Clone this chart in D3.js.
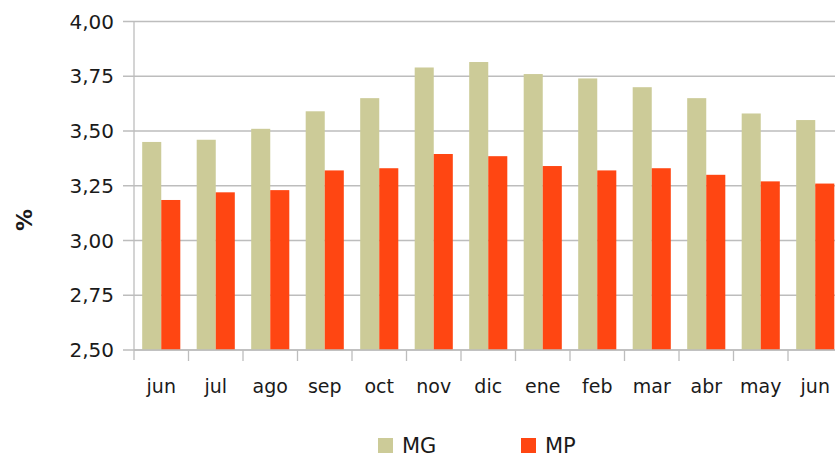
<!DOCTYPE html>
<html lang="es">
<head>
<meta charset="utf-8">
<style>
  body { margin: 0; background: #fff; }
  text { font-family: "DejaVu Sans", "Liberation Sans", sans-serif; fill: #1a1a1a; }
</style>
</head>
<body>
<svg width="835" height="457"></svg>
<script src="https://cdn.jsdelivr.net/npm/d3@7"></script>
<script>
const months = ['jun', 'jul', 'ago', 'sep', 'oct', 'nov', 'dic', 'ene', 'feb', 'mar', 'abr', 'may', 'jun '];
const mg = [3.45, 3.46, 3.51, 3.59, 3.65, 3.79, 3.815, 3.76, 3.74, 3.70, 3.65, 3.58, 3.55];
const mp = [3.185, 3.22, 3.23, 3.32, 3.33, 3.395, 3.385, 3.34, 3.32, 3.33, 3.30, 3.27, 3.26];
const series = ['MG', 'MP'];
const yTicks = [2.5, 2.75, 3.0, 3.25, 3.5, 3.75, 4.0];

const colors = { MG: '#cccb98', MP: '#ff4612' };

const svg = d3.select('svg');
const plotLeft = 134, plotTop = 21.5, plotBottom = 350;
const bandW = 54.5;

const x = d3.scaleBand()
    .domain(months)
    .range([plotLeft, plotLeft + bandW * months.length])
    .paddingInner(0)
    .paddingOuter(0);

const inner = d3.scaleBand()
    .domain(series)
    .range([0, x.bandwidth()])
    .paddingOuter(0.43)
    .paddingInner(0);

const y = d3.scaleLinear().domain([2.5, 4.0]).range([plotBottom, plotTop]);
const fmt = v => d3.format('.2f')(v).replace('.', ',');

// horizontal grid
svg.append('g').selectAll('line')
    .data(yTicks)
    .enter().append('line')
    .attr('x1', 123).attr('x2', 835)
    .attr('y1', d => y(d)).attr('y2', d => y(d))
    .attr('stroke', '#bdbdbd')
    .attr('stroke-width', 1.3);

// bars
const groups = svg.append('g').selectAll('g')
    .data(months.map((m, i) => ({ m, vals: [{ k: 'MG', v: mg[i] }, { k: 'MP', v: mp[i] }] })))
    .enter().append('g')
    .attr('transform', d => `translate(${x(d.m)},0)`);

groups.selectAll('rect')
    .data(d => d.vals)
    .enter().append('rect')
    .attr('x', d => inner(d.k))
    .attr('width', inner.bandwidth())
    .attr('y', d => y(d.v))
    .attr('height', d => y(2.5) - y(d.v))
    .attr('fill', d => colors[d.k]);

// y axis line
svg.append('line')
    .attr('x1', plotLeft).attr('x2', plotLeft)
    .attr('y1', plotTop).attr('y2', plotBottom + 10)
    .attr('stroke', '#bdbdbd').attr('stroke-width', 1.3);

// x axis line + ticks
svg.append('line')
    .attr('x1', plotLeft).attr('x2', 835)
    .attr('y1', plotBottom).attr('y2', plotBottom)
    .attr('stroke', '#bdbdbd').attr('stroke-width', 1.3);

svg.append('g').selectAll('line')
    .data(months.slice(1))
    .enter().append('line')
    .attr('x1', d => x(d)).attr('x2', d => x(d))
    .attr('y1', plotBottom).attr('y2', plotBottom + 11)
    .attr('stroke', '#bdbdbd').attr('stroke-width', 1.3);

// y labels
svg.append('g').selectAll('text')
    .data(yTicks)
    .enter().append('text')
    .attr('x', 114)
    .attr('y', d => y(d) + 7)
    .attr('text-anchor', 'end')
    .style('font-size', '20px')
    .text(fmt);

// x labels
svg.append('g').selectAll('text')
    .data(months)
    .enter().append('text')
    .attr('x', d => x(d) + x.bandwidth() / 2)
    .attr('y', 393)
    .attr('text-anchor', 'middle')
    .style('font-size', '19px')
    .text(d => d.trim());

// y title
svg.append('text')
    .attr('transform', 'translate(32,220) rotate(-90)')
    .attr('text-anchor', 'middle')
    .style('font-size', '22px')
    .style('font-weight', 'bold')
    .text('%');

// legend
const legendX = [378, 521];
const legend = svg.append('g').selectAll('g')
    .data(series)
    .enter().append('g')
    .attr('transform', (d, i) => `translate(${legendX[i]},438)`);

legend.append('rect')
    .attr('width', 15).attr('height', 15)
    .attr('fill', d => colors[d]);

legend.append('text')
    .attr('x', 24).attr('y', 15)
    .style('font-size', '21px')
    .text(d => d);
</script>
</body>
</html>
